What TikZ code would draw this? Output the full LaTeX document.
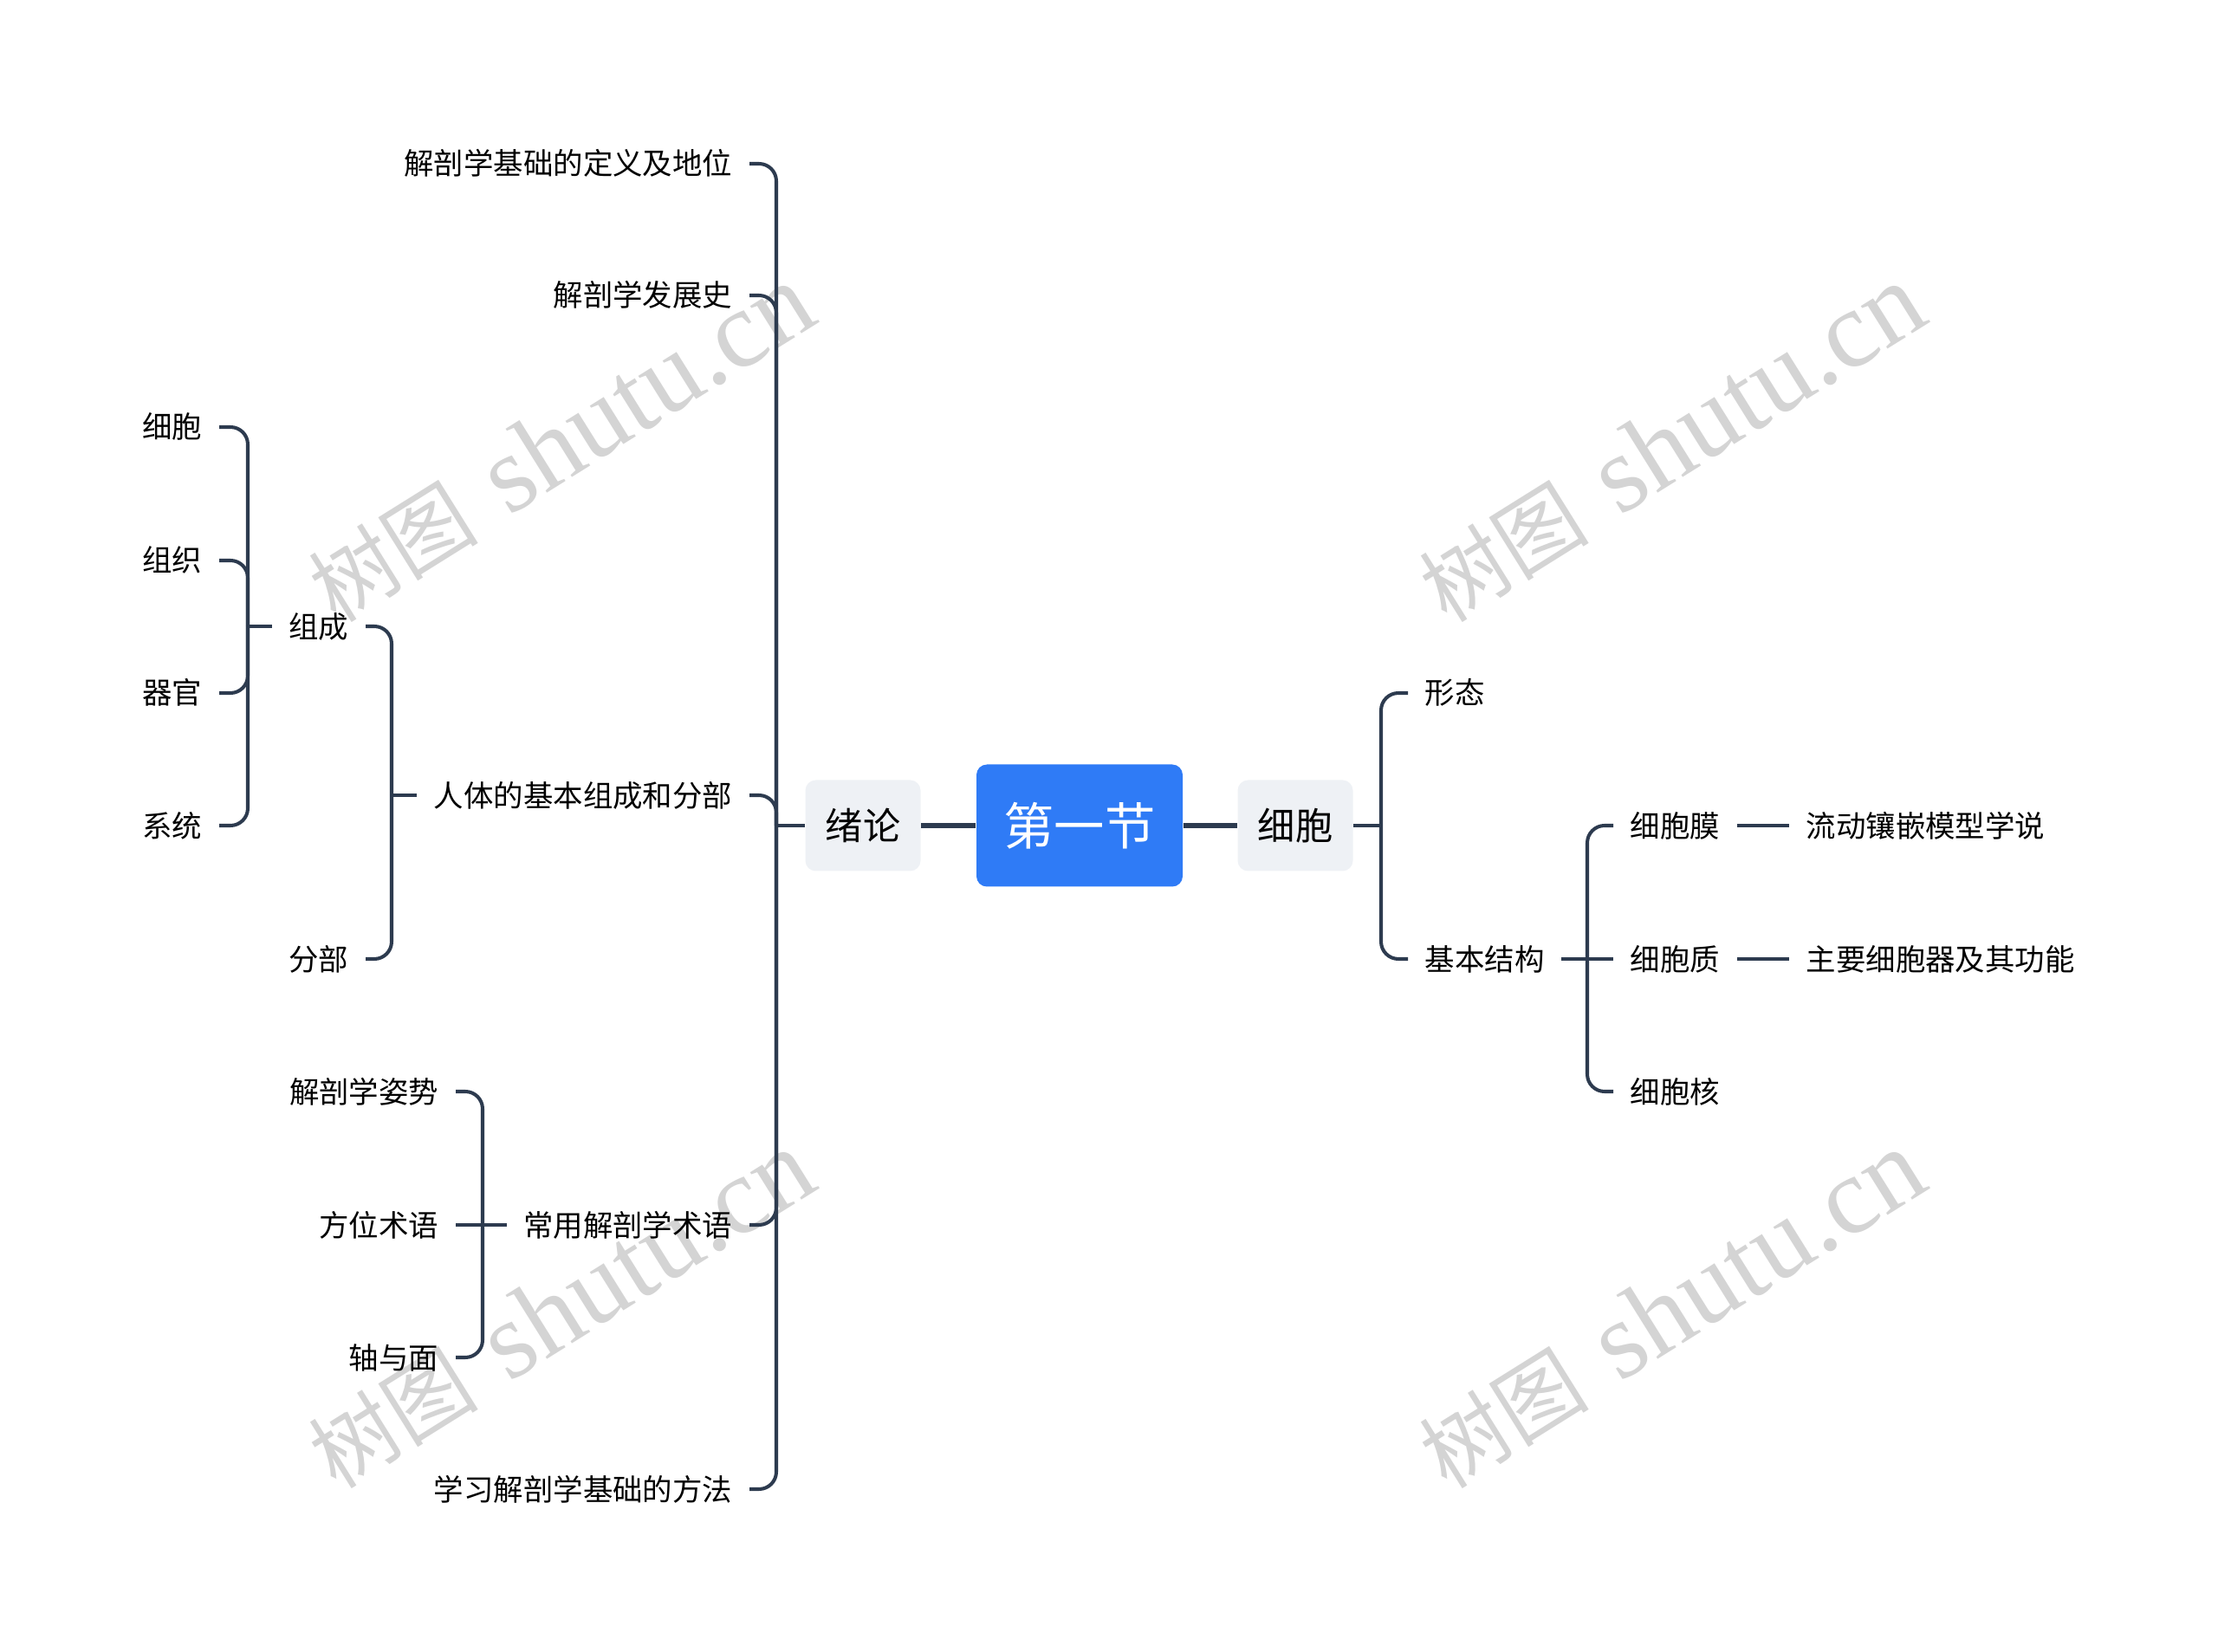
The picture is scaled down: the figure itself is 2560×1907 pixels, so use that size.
\documentclass[tikz,border=0pt]{standalone}
\usepackage{fontspec}
\newfontfamily\cjk{Noto Sans CJK SC}
\newfontfamily\wmserif{Liberation Serif}
\definecolor{linkcol}{HTML}{2D3B4F}
\definecolor{rootblue}{HTML}{2F7BF6}
\definecolor{subgray}{HTML}{EEF1F5}
\definecolor{wmgray}{HTML}{D4D4D4}
\tikzset{
  link/.style={draw=linkcol, line width=1.15pt, rounded corners=0.2cm},
  mainlink/.style={draw=linkcol, line width=1.8pt},
  rootbox/.style={fill=rootblue, rounded corners=0.12cm, minimum width=2.38cm, minimum height=1.41cm,
    font=\cjk\fontsize{16.6pt}{20pt}\selectfont, text=white, inner sep=0, text height=14.6pt, text depth=2pt},
  subbox/.style={fill=subgray, rounded corners=0.12cm, minimum width=1.33cm, minimum height=1.05cm,
    font=\cjk\fontsize{12.3pt}{15pt}\selectfont, inner sep=0, text height=10.8pt, text depth=1.5pt},
  leaf/.style={font=\cjk\fontsize{9.8pt}{12pt}\selectfont, inner xsep=0.19cm, inner ysep=0,
    text height=8.6pt, text depth=1.2pt},
  wmark/.style={text=wmgray, rotate=32, inner sep=0, font=\fontsize{36pt}{40pt}\selectfont}
}
\begin{document}
\begin{tikzpicture}[x=0.1mm,y=-0.1mm]
\useasboundingbox (0,0) rectangle (2560,1907);
% watermarks
\foreach \wx/\wy in {647/512,1929/512,647/1512,1929/1512}
  \node[wmark] at (\wx,\wy) {{\cjk\fontsize{28pt}{32pt}\selectfont 树图} {\wmserif shutu.cn}};

% centre
\node[rootbox] (root) at (1246,953) {第一节};
\node[subbox] (xulun) at (996,953) {绪论};
\node[subbox] (xibao) at (1495,953) {细胞};
\draw[mainlink] (root.west) -- (xulun.east);
\draw[mainlink] (root.east) -- (xibao.west);

% left: 绪论
\coordinate (jXulun) at (896,953);
\node[leaf,anchor=east] (dingyi) at (865,189) {解剖学基础的定义及地位};
\node[leaf,anchor=east] (fazhan) at (865,341) {解剖学发展史};
\node[leaf,anchor=east] (renti) at (865,918) {人体的基本组成和分部};
\node[leaf,anchor=east] (changyong) at (865,1414) {常用解剖学术语};
\node[leaf,anchor=east] (xuexi) at (865,1719) {学习解剖学基础的方法};
\draw[link] (xulun.west) -- (jXulun);
\foreach \n in {dingyi,fazhan,renti,changyong,xuexi}
  \draw[link] (jXulun) |- (\n.east);

% 人体的基本组成和分部
\coordinate (jRenti) at (452,918);
\node[leaf,anchor=east] (zucheng) at (422,723) {组成};
\node[leaf,anchor=east] (fenbu) at (422,1107) {分部};
\draw[link] (renti.west) -- (jRenti);
\foreach \n in {zucheng,fenbu}
  \draw[link] (jRenti) |- (\n.east);

% 组成
\coordinate (jZucheng) at (286,723);
\node[leaf,anchor=east] (xb) at (253,493) {细胞};
\node[leaf,anchor=east] (zz) at (253,647) {组织};
\node[leaf,anchor=east] (qg) at (253,800) {器官};
\node[leaf,anchor=east] (xt) at (253,953) {系统};
\draw[link] (zucheng.west) -- (jZucheng);
\foreach \n in {xb,zz,qg,xt}
  \draw[link] (jZucheng) |- (\n.east);

% 常用解剖学术语
\coordinate (jChangyong) at (557,1414);
\node[leaf,anchor=east] (zishi) at (526,1260) {解剖学姿势};
\node[leaf,anchor=east] (fangwei) at (526,1414) {方位术语};
\node[leaf,anchor=east] (zhou) at (526,1567) {轴与面};
\draw[link] (changyong.west) -- (jChangyong);
\draw[link] (jChangyong) -- (fangwei.east);
\foreach \n in {zishi,zhou}
  \draw[link] (jChangyong) |- (\n.east);

% right: 细胞
\coordinate (jXibao) at (1594,953);
\node[leaf,anchor=west] (xingtai) at (1625,800) {形态};
\node[leaf,anchor=west] (jiben) at (1625,1107) {基本结构};
\draw[link] (xibao.east) -- (jXibao);
\foreach \n in {xingtai,jiben}
  \draw[link] (jXibao) |- (\n.west);

% 基本结构
\coordinate (jJiben) at (1832,1107);
\node[leaf,anchor=west] (mo) at (1862,953) {细胞膜};
\node[leaf,anchor=west] (zhi) at (1862,1107) {细胞质};
\node[leaf,anchor=west] (he) at (1862,1260) {细胞核};
\draw[link] (jiben.east) -- (jJiben);
\draw[link] (jJiben) -- (zhi.west);
\foreach \n in {mo,he}
  \draw[link] (jJiben) |- (\n.west);

\node[leaf,anchor=west] (liudong) at (2065,953) {流动镶嵌模型学说};
\node[leaf,anchor=west] (gongneng) at (2065,1107) {主要细胞器及其功能};
\draw[link] (mo.east) -- (liudong.west);
\draw[link] (zhi.east) -- (gongneng.west);
\end{tikzpicture}
\end{document}
